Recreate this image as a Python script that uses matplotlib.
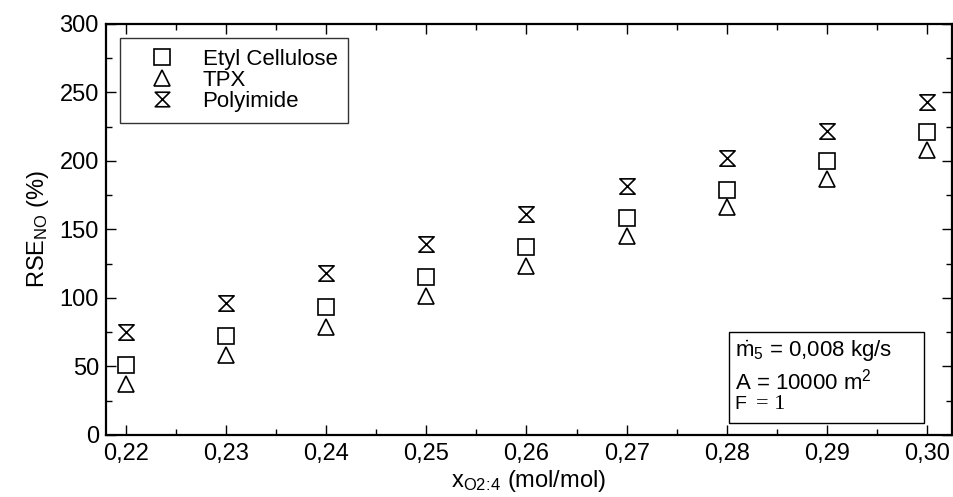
import matplotlib
matplotlib.use("Agg")
import matplotlib.pyplot as plt
from matplotlib.path import Path
from matplotlib.ticker import MultipleLocator, FuncFormatter

plt.rcParams['font.family'] = ['Liberation Sans', 'DejaVu Sans']
plt.rcParams['mathtext.fontset'] = 'custom'
plt.rcParams['mathtext.rm'] = 'Liberation Sans'
plt.rcParams['mathtext.it'] = 'Liberation Sans'

# data
x_o2 = [0.22, 0.23, 0.24, 0.25, 0.26, 0.27, 0.28, 0.29, 0.30]
etyl_cellulose = [51, 72, 93, 115, 137, 158, 179, 200, 221]
tpx = [37, 58, 79, 101, 123, 145, 166, 187, 208]
polyimide = [75, 96, 118, 139, 161, 182, 202, 222, 243]

hourglass = Path([(-1, -1), (1, -1), (-1, 1), (1, 1), (-1, -1)],
                 [Path.MOVETO, Path.LINETO, Path.LINETO, Path.LINETO, Path.CLOSEPOLY])

fig, ax = plt.subplots(figsize=(9.54, 4.97), dpi=100)
fig.subplots_adjust(left=0.111, right=0.998, top=0.952, bottom=0.125)

ax.plot(x_o2, etyl_cellulose, linestyle='none', marker='s', ms=12, mfc='white',
        mec='black', mew=1.2, label='Etyl Cellulose')
ax.plot(x_o2, tpx, linestyle='none', marker='^', ms=12, mfc='white',
        mec='black', mew=1.2, label='TPX')
ax.plot(x_o2, polyimide, linestyle='none', marker=hourglass, ms=11, mfc='white',
        mec='black', mew=1.2, label='Polyimide')

ax.set_xlim(0.218, 0.3025)
ax.set_ylim(0, 300)
ax.xaxis.set_major_locator(MultipleLocator(0.01))
ax.xaxis.set_minor_locator(MultipleLocator(0.005))
ax.yaxis.set_major_locator(MultipleLocator(50))
ax.yaxis.set_minor_locator(MultipleLocator(25))
ax.xaxis.set_major_formatter(FuncFormatter(lambda v, p: f"{v:.2f}".replace('.', ',')))
ax.tick_params(which='both', direction='in', top=True, right=True, labelsize=17)
ax.tick_params(which='major', length=7, width=1)
ax.tick_params(which='minor', length=4, width=1)
ax.tick_params(axis='x', pad=6)
ax.tick_params(axis='y', pad=5)
for s in ax.spines.values():
    s.set_linewidth(1.6)

ax.set_xlabel(r'x$_{\mathrm{O2\!:\!4}}$ (mol/mol)', fontsize=17, labelpad=2)
ax.set_ylabel(r'RSE$_{\mathrm{NO}}$ (%)', fontsize=17, labelpad=6)

leg = ax.legend(loc='upper left', fontsize=16, frameon=True, fancybox=False,
                edgecolor='black', borderpad=0.5, handletextpad=0.45,
                labelspacing=0.0, bbox_to_anchor=(0.017, 0.966), handlelength=2.75,
                markerscale=0.95, borderaxespad=0)
leg.get_frame().set_linewidth(1.0)

ax.text(0.743, 0.202, r'$\dot{\mathrm{m}}_5$ = 0,008 kg/s', transform=ax.transAxes,
        fontsize=16, va='center', ha='left')
ax.text(0.743, 0.130, r'A = 10000 m$^2$', transform=ax.transAxes,
        fontsize=16, va='center', ha='left')
ax.text(0.743, 0.075, 'F', transform=ax.transAxes, fontsize=14,
        va='center', ha='left')
ax.text(0.768, 0.075, '= 1', transform=ax.transAxes, fontsize=16,
        family='Liberation Serif', va='center', ha='left')
ax.add_patch(plt.Rectangle((0.736, 0.029), 0.231, 0.222, transform=ax.transAxes,
                           fill=False, edgecolor='black', lw=1.0))

fig.savefig('out.png', dpi=100)
